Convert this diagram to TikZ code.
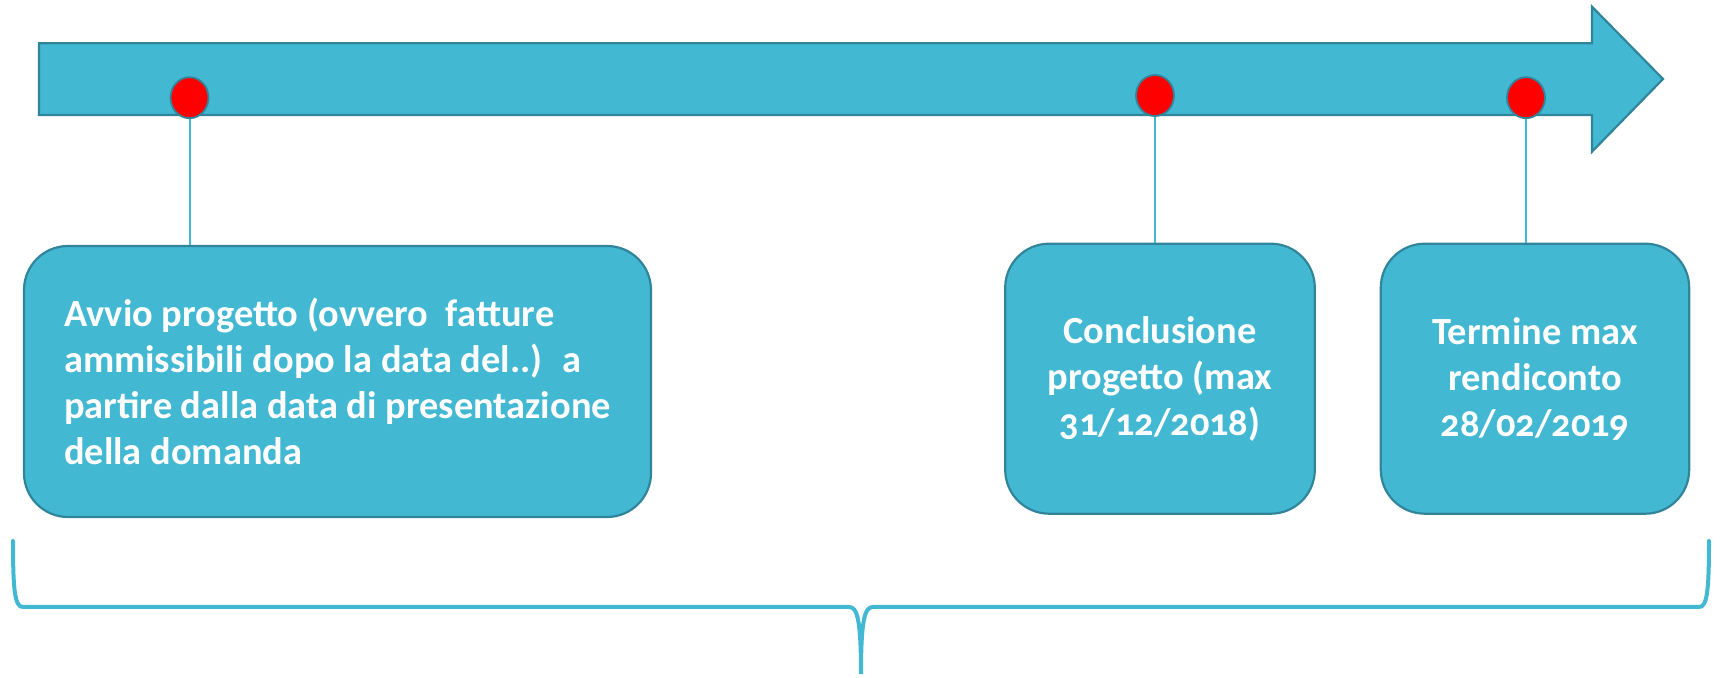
\documentclass[tikz,border=0pt]{standalone}
\usepackage{fontspec}
\setmainfont{Carlito}[Numbers=OldStyle]
\usetikzlibrary{shapes.geometric}
\definecolor{teal1}{HTML}{42B8D2}
\definecolor{teal2}{HTML}{31859B}
\tikzset{
  boxstyle/.style={draw=teal2, fill=teal1, line width=1.1pt, rounded corners=22pt,
    text=white, font=\fontsize{19.2pt}{22.9pt}\selectfont\bfseries},
  dotstyle/.style={ellipse, draw=teal2, fill=red, line width=0.9pt, minimum width=19pt, minimum height=20.5pt, inner sep=0pt},
  linkstyle/.style={draw=teal1, line width=1pt},
  bracestyle/.style={draw=teal1, line width=2pt, line cap=round},
  arrowstyle/.style={draw=teal2, fill=teal1, line width=1.1pt}
}
\begin{document}
\begin{tikzpicture}[x=0.5pt, y=-0.5pt]
\useasboundingbox (0,0) rectangle (1721,678);
% main arrow
\draw[arrowstyle] (39,43.3) -- (1592,43.3) -- (1592,6.7) -- (1663,79) -- (1592,151.7) -- (1592,115) -- (39,115) -- cycle;
% boxes
\node[boxstyle, minimum width=313.5pt, minimum height=135.5pt, align=left] (b1) at (337.5,381.5)
  {Avvio progetto (ovvero~ fatture\\ammissibili dopo la data del..)~ a\\partire dalla data di presentazione\\della domanda};
\node[boxstyle, minimum width=154.8pt, minimum height=135pt, align=center] (b2) at (1160,378.7)
  {Conclusione\\progetto (max\\31/12/2018)};
\node[boxstyle, minimum width=154.2pt, minimum height=135pt, align=center] (b3) at (1535,378.7)
  {Termine max\\rendiconto\\28/02/2019};
% dots
\node[dotstyle] (d1) at (189.5,97.7) {};
\node[dotstyle] (d2) at (1155,95.5) {};
\node[dotstyle] (d3) at (1526,97.7) {};
% connectors
\draw[linkstyle] (d1.south) -- (d1.south |- b1.north);
\draw[linkstyle] (d2.south) -- (d2.south |- b2.north);
\draw[linkstyle] (d3.south) -- (d3.south |- b3.north);
% brace
\coordinate (bl) at (13,541);
\coordinate (bm) at (861,674);
\coordinate (br) at (1709,541);
\draw[bracestyle] (bl) .. controls (13,592) and (15,607) .. (23,607) -- (849,607)
  .. controls (857,607) and (861,618) .. (bm)
  .. controls (861,618) and (865,607) .. (873,607) -- (1699,607)
  .. controls (1707,607) and (1709,592) .. (br);
\end{tikzpicture}
\end{document}
